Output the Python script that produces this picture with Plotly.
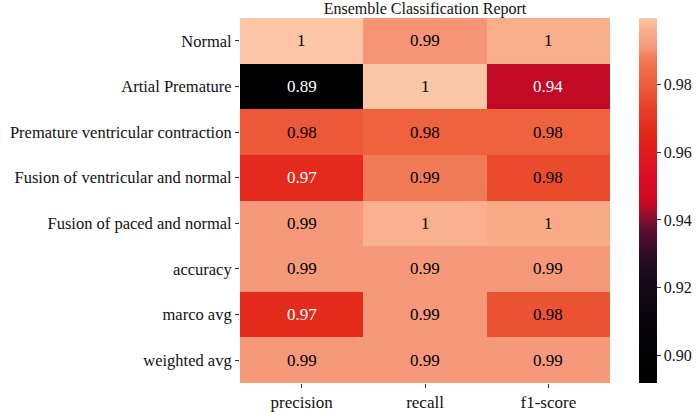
import plotly.graph_objects as go

classes = ["Normal", "Artial Premature", "Premature ventricular contraction",
           "Fusion of ventricular and normal", "Fusion of paced and normal",
           "accuracy", "marco avg", "weighted avg"]
metrics = ["precision", "recall", "f1-score"]

precision = [0.9995, 0.8918, 0.9790, 0.9665, 0.9910, 0.9912, 0.9672, 0.9912]
recall    = [0.9905, 0.9997, 0.9815, 0.9875, 0.9962, 0.9912, 0.9910, 0.9912]
f1_score  = [0.9958, 0.9445, 0.9815, 0.9756, 0.9952, 0.9912, 0.9775, 0.9912]

zmin, zmax = 0.8918, 0.9997

colorscale = [
    [0.00, "#000000"],
    [0.08, "#030204"],
    [0.18, "#08040b"],
    [0.29, "#1a0a1c"],
    [0.36, "#330c26"],
    [0.42, "#5c1030"],
    [0.46, "#950d2b"],
    [0.488, "#c20a26"],
    [0.52, "#d40a23"],
    [0.56, "#dc0a22"],
    [0.66, "#e2221c"],
    [0.70, "#e42c1c"],
    [0.77, "#ea482b"],
    [0.81, "#ed5a39"],
    [0.84, "#ef6640"],
    [0.89, "#f27c58"],
    [0.918, "#f6977a"],
    [0.96, "#f9ab88"],
    [1.00, "#fcc7a8"],
]

z = [[p, r, f] for p, r, f in zip(precision, recall, f1_score)]

FONT = "Liberation Serif, DejaVu Serif, serif"

fig = go.Figure(go.Heatmap(
    z=z, x=metrics, y=classes, zmin=zmin, zmax=zmax,
    colorscale=colorscale, xgap=0, ygap=0,
    colorbar=dict(
        x=1.078, xanchor="left", y=0.5, yanchor="middle", len=1.0,
        lenmode="fraction", thickness=18, outlinewidth=0, ypad=0, xpad=0,
        tickvals=[0.90, 0.92, 0.94, 0.96, 0.98],
        ticktext=["0.90", "0.92", "0.94", "0.96", "0.98"],
        ticks="outside", ticklen=4, tickcolor="#333",
        tickfont=dict(family=FONT, size=16, color="#111"),
    ),
    hoverinfo="skip",
))

annotations = []
for i, c in enumerate(classes):
    for j, m in enumerate(metrics):
        v = z[i][j]
        color = "white" if v < 0.972 else "black"
        annotations.append(dict(
            x=m, y=c, xref="x", yref="y", text=format(v, ".2g"),
            showarrow=False,
            font=dict(family=FONT, size=17, color=color),
        ))

fig.update_layout(
    width=698, height=412,
    margin=dict(l=240, r=88, t=18, b=29, autoexpand=False),
    paper_bgcolor="white", plot_bgcolor="white",
    title=dict(text="Ensemble Classification Report", x=(240 + 610) / 2 / 698,
               xanchor="center", xref="container",
               y=(412 - 8.5) / 412, yanchor="middle",
               font=dict(family=FONT, size=16, color="#111")),
    annotations=annotations,
    font=dict(family=FONT, size=16, color="#111"),
)
fig.update_xaxes(ticks="outside", ticklen=4, tickcolor="#333", showgrid=False,
                 zeroline=False, automargin=False,
                 tickfont=dict(family=FONT, size=17))
fig.update_yaxes(autorange="reversed", ticks="outside", ticklen=4, tickcolor="#333",
                 showgrid=False, zeroline=False, automargin=False,
                 tickfont=dict(family=FONT, size=16.5))

fig.write_html("out.html", config={"displayModeBar": False},
               post_script="document.body.style.margin='0px';")
